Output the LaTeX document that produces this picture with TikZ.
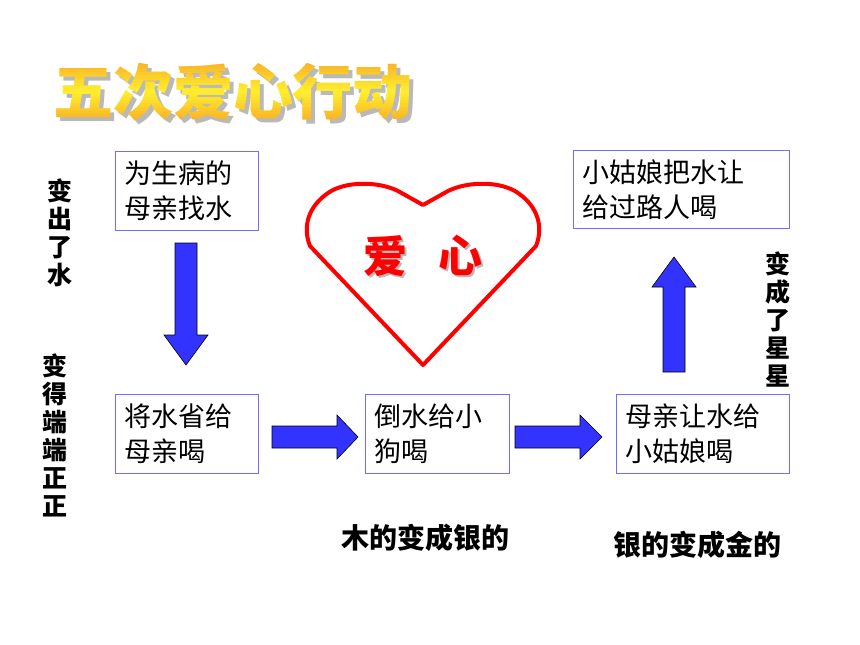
\documentclass[tikz,border=0pt]{standalone}
\usepackage{fontspec}
\setmainfont{Noto Sans CJK SC}
\definecolor{boxblue}{RGB}{110,110,255}
\definecolor{arrowblue}{RGB}{51,51,255}
\definecolor{titleorange}{RGB}{248,150,35}
\definecolor{titleyellow}{RGB}{255,240,45}
\definecolor{shadowgray}{RGB}{185,185,185}
\begin{document}
\begin{tikzpicture}[x=1pt,y=-1pt,
  box/.style={draw=boxblue, line width=1.2pt, fill=white, anchor=north west,
    inner xsep=9pt, inner ysep=0pt, align=left,
    font=\fontsize{27}{35}\selectfont},
  blockarrow/.style={fill=arrowblue, draw=black, line width=0.6pt, line join=miter},
  sidelabel/.style={font=\fontsize{25}{28}\selectfont\bfseries, align=center, inner sep=0pt},
  bottomlabel/.style={font=\fontsize{28}{30}\selectfont\bfseries, inner sep=0pt},
  titlefont/.style={font=\fontsize{60}{62}\selectfont\bfseries, inner sep=0pt},
  heartfont/.style={font=\fontsize{44}{46}\selectfont\bfseries, inner sep=0pt}]
\useasboundingbox (0,0) rectangle (860,645);
\fill[white] (0,0) rectangle (860,645);

% title with shadow and banded gradient
\node[titlefont, text=shadowgray] (titleshadow) at (237,96) {五次爱心行动};
\foreach \i in {0,...,29} {
  \pgfmathsetmacro\ya{50+2.8*\i}
  \pgfmathsetmacro\yb{\ya+3.0}
  \pgfmathsetmacro\p{100*(1-abs(2*(\i+0.5)/30-1))}
  \begin{scope}
    \clip (0,\ya) rectangle (860,\yb);
    \node[titlefont, text=titleyellow!\p!titleorange] (title\i) at (233,92) {五次爱心行动};
  \end{scope}
}

% heart
\draw[red, line width=4pt, fill=white, line join=round]
  (423,205) -- (398,191) .. controls (378,181) and (345,181) .. (328,193)
  .. controls (309,206) and (302,226) .. (310,246) -- (423,365) -- (536,246)
  .. controls (544,226) and (537,206) .. (518,193)
  .. controls (501,181) and (468,181) .. (448,191) -- cycle;
\node[heartfont, text=shadowgray] (heartshadow) at (425,258) {爱\hspace{31pt}心};
\node[heartfont, text=red] (hearttext) at (423,256) {爱\hspace{31pt}心};

% boxes
\node[box, text width=125pt, minimum height=79pt] (b1) at (115,151) {为生病的\\母亲找水};
\node[box, text width=125pt, minimum height=79pt] (b2) at (115,394) {将水省给\\母亲喝};
\node[box, text width=126pt, minimum height=79pt] (b3) at (365,394) {倒水给小\\狗喝};
\node[box, text width=155pt, minimum height=79pt] (b4) at (616,394) {母亲让水给\\小姑娘喝};
\node[box, text width=198pt, minimum height=78pt] (b5) at (573,150) {小姑娘把水让\\给过路人喝};

% block arrows
\draw[blockarrow] (175,243) -- (197,243) -- (197,335) -- (208,335) -- (186,365)
  -- (164,335) -- (175,335) -- cycle;
\draw[blockarrow] (272,426) -- (337,426) -- (337,415) -- (358,437) -- (337,459)
  -- (337,448) -- (272,448) -- cycle;
\draw[blockarrow] (515,426) -- (580,426) -- (580,415) -- (602,437) -- (580,459)
  -- (580,448) -- (515,448) -- cycle;
\draw[blockarrow] (663,372) -- (663,287) -- (652,287) -- (674,257) -- (696,287)
  -- (685,287) -- (685,372) -- cycle;

% side labels
\node[sidelabel] (l1) at (60,233) {变\\出\\了\\水};
\node[sidelabel] (l2) at (55,435) {变\\得\\端\\端\\正\\正};
\node[sidelabel] (l3) at (778,320) {变\\成\\了\\星\\星};
\node[bottomlabel] (l4) at (425,538) {木的变成银的};
\node[bottomlabel] (l5) at (697,545) {银的变成金的};
\end{tikzpicture}
\end{document}
